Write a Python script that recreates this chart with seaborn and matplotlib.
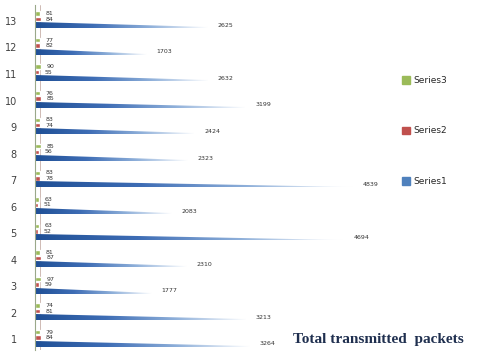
import numpy as np
import pandas as pd
import matplotlib
matplotlib.use("Agg")
import matplotlib.pyplot as plt
import seaborn as sns
from matplotlib.patches import Polygon
from matplotlib.colors import LinearSegmentedColormap

# values
nodes = [str(i) for i in range(1, 14)]
series1 = [3264, 3213, 1777, 2310, 4694, 2083, 4839, 2323, 2424, 3199, 2632, 1703, 2625]
series2 = [84, 81, 59, 87, 52, 51, 78, 56, 74, 85, 55, 82, 84]
series3 = [79, 74, 97, 81, 63, 63, 83, 85, 83, 76, 90, 77, 81]
series_names = ["Series1", "Series2", "Series3"]
colors = {"Series1": "#4F81BD", "Series2": "#C0504D", "Series3": "#9BBB59"}

df = pd.DataFrame({"node": nodes, "Series1": series1, "Series2": series2, "Series3": series3})
long = df.melt(id_vars = "node", var_name = "series", value_name = "packets")

sns.set_style("white")
fig = plt.figure(figsize = (4.86, 3.54), dpi = 100)
ax = fig.add_axes([0.072, 0.011, 0.92, 0.975])

order = nodes[::-1]
hue_order = ["Series3", "Series2", "Series1"]
sns.barplot(data = long, y = "node", x = "packets", hue = "series", order = order,
            hue_order = hue_order, palette = colors, orient = "h", width = 0.62,
            dodge = True, legend = False, ax = ax, saturation = 1)

# blue bars: fading, tapering cone like the reference
fade = LinearSegmentedColormap.from_list("fade", ["#1F4F95", "#3E6DB5", "#8FB0DA", "#FFFFFF"])
grad = np.linspace(0, 1, 256).reshape(1, -1)
for cont, name in zip(ax.containers, hue_order):
    vals = [df.set_index("node").loc[n, name] for n in order]
    for patch, v in zip(cont, vals):
        x0, y0 = patch.get_x(), patch.get_y()
        w, h = patch.get_width(), patch.get_height()
        if name == "Series1":
            patch.set_visible(False)
            ybot, ytop = y0 + h * 1.05, y0 - h * 0.05
            tri = Polygon([(x0, ytop), (x0, ybot), (x0 + w, ybot), (x0 + w, ybot - h * 0.15)],
                          closed = True, transform = ax.transData, facecolor = "none", edgecolor = "none")
            ax.add_patch(tri)
            im = ax.imshow(grad, extent = [x0, x0 + w, ybot, ytop], cmap = fade,
                           aspect = "auto", interpolation = "bilinear", zorder = 2)
            im.set_clip_path(tri)
            ax.annotate(str(v), (x0 + w, y0 + h * 0.55), xytext = (7, 0), textcoords = "offset points",
                        fontsize = 4.5, va = "center", color = "#333333")
        else:
            patch.set_height(h * 0.8)
            ax.annotate(str(v), (x0 + w, y0 + h * 0.4), xytext = (4, 0), textcoords = "offset points",
                        fontsize = 4.5, va = "center", color = "#333333")

ax.set_xlim(0, 6800)
ax.set_ylim(12.45, -0.55)
ax.set_yticks(np.arange(13) + 0.05, order)
ax.tick_params(axis = "y", length = 0, pad = 13, labelsize = 7, labelcolor = "#404040")
ax.set_xticks([])
ax.set_xlabel("")
ax.set_ylabel("")
for s in ["top", "right", "bottom"]:
    ax.spines[s].set_visible(False)
ax.spines["left"].set_color("#9AA88A")
ax.spines["left"].set_linewidth(0.8)
ax.axvline(75, color = "#C8B0A8", linewidth = 0.6, zorder = 0)

# legend on the right
handles = [plt.Rectangle((0, 0), 1, 1, color = colors[n]) for n in hue_order]
fig.legend(handles, hue_order, loc = "center left", bbox_to_anchor = (0.81, 0.63),
           frameon = False, fontsize = 6.5, labelspacing = 4.6, handlelength = 0.9,
           handleheight = 0.9, handletextpad = 0.4)

fig.text(0.602, 0.03, "Total transmitted  packets", fontfamily = "Liberation Serif",
         fontweight = "bold", fontsize = 11, color = "#1F2F4F")

fig.savefig("out.png", dpi = 100)
